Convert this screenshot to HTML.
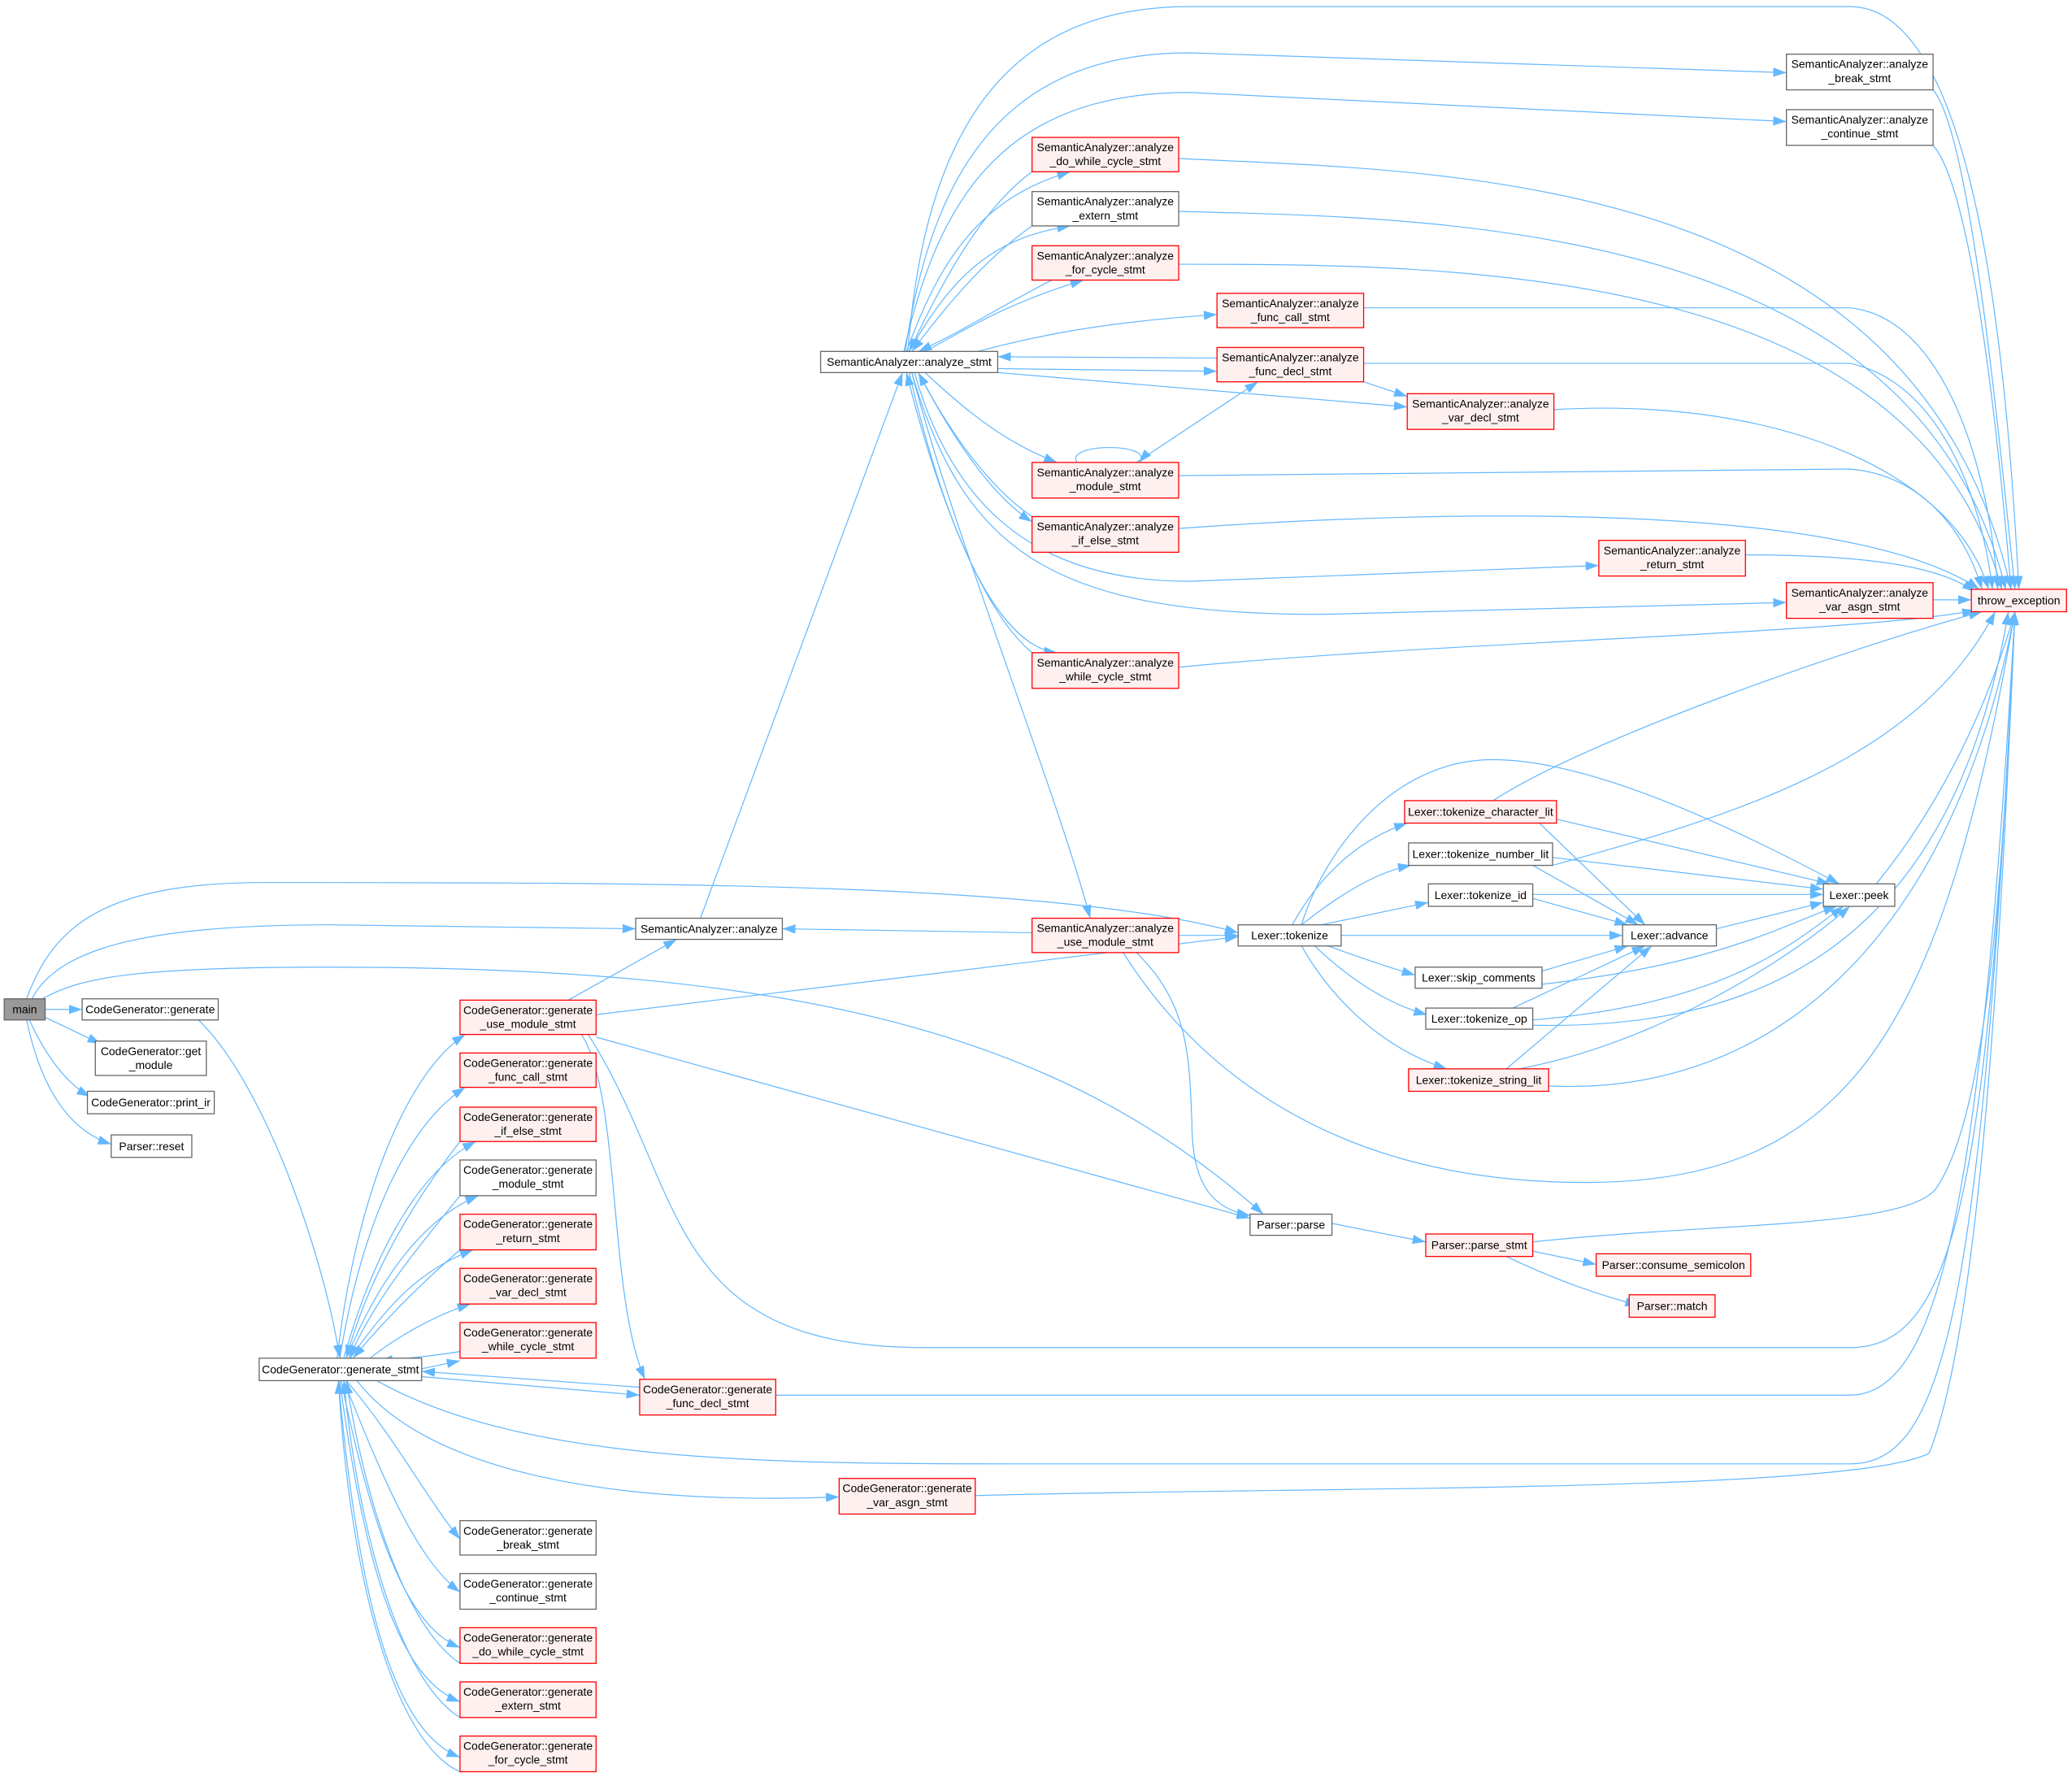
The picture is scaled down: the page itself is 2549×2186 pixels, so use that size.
<!DOCTYPE html>
<html><head><meta charset="utf-8"><style>
html,body{margin:0;padding:0;background:#fff}
svg{display:block}
text{font-family:"Liberation Sans",sans-serif;font-size:8.6px;fill:#000;text-anchor:middle}
.e{fill:none;stroke:#63b8ff;stroke-width:0.75;marker-end:url(#a)}
.n rect{fill:#fff;stroke:#666;stroke-width:0.8}
.r rect{fill:#fff0f0;stroke:#ff0000;stroke-width:0.8}
</style></head><body>
<svg width="2549" height="2186" viewBox="0 0 1568 1345" xmlns="http://www.w3.org/2000/svg">
<defs><marker id="a" markerWidth="10" markerHeight="7" refX="10" refY="3.5" orient="auto" markerUnits="userSpaceOnUse"><path d="M0,0 L10,3.5 L0,7 z" fill="#63b8ff"/></marker></defs>
<g id="edges">
<!-- main -->
<path class="e" d="M34 764 L62 764"/>
<path class="e" d="M34 770 L76 790"/>
<path class="e" d="M22 772 C35 800 50 820 68 830"/>
<path class="e" d="M20 772 C30 820 50 855 84 866"/>
<path class="e" d="M24 756 C45 715 120 700 250 700 L481 703"/>
<path class="e" d="M20 756 C40 700 80 668 200 668 C500 668 800 668 937 706"/>
<path class="e" d="M32 756 C60 740 100 732 250 732 C600 732 800 780 956 919"/>
<path class="e" d="M150 772 C200 820 245 950 257 1028"/>
<!-- generate_stmt to CG nodes -->
<path class="e" d="M255 1028 C270 900 310 810 352 783"/>
<path class="e" d="M257 1028 C275 920 310 850 352 823"/>
<path class="e" d="M260 1028 C285 940 320 885 360 864"/>
<path class="e" d="M262 1028 C290 960 325 920 362 905"/>
<path class="e" d="M265 1028 C295 985 320 960 358 946"/>
<path class="e" d="M280 1028 C300 1012 330 995 356 987"/>
<path class="e" d="M319 1036 L348 1030"/>
<path class="e" d="M348 1023 C330 1026 310 1028 287 1030"/>
<path class="e" d="M348 864 C320 900 280 960 262 1028"/>
<path class="e" d="M348 905 C320 940 285 980 264 1028"/>
<path class="e" d="M348 946 C320 970 290 1000 267 1028"/>
<path class="e" d="M319 1042 L484 1056"/>
<path class="e" d="M484 1050 L319 1038"/>
<path class="e" d="M262 1045 C300 1090 320 1130 348 1165"/>
<path class="e" d="M260 1045 C290 1120 315 1180 348 1205"/>
<path class="e" d="M258 1045 C280 1150 305 1230 348 1247"/>
<path class="e" d="M257 1045 C275 1180 300 1270 348 1288"/>
<path class="e" d="M256 1045 C270 1200 295 1310 348 1330"/>
<path class="e" d="M348 1300 C300 1270 270 1150 260 1045"/>
<path class="e" d="M348 1259 C305 1230 275 1130 262 1045"/>
<path class="e" d="M348 1341 C300 1320 265 1200 256 1045"/>
<path class="e" d="M270 1045 C320 1110 450 1140 635 1133"/>
<path class="e" d="M285 1045 C400 1110 600 1108 800 1108 L1400 1108 C1470 1108 1500 1000 1525 463"/>
<!-- CG use_module -->
<path class="e" d="M430 757 L512 711"/>
<path class="e" d="M451 768 L937 709"/>
<path class="e" d="M451 785 L946 922"/>
<path class="e" d="M440 783 C470 830 460 980 488 1044"/>
<path class="e" d="M445 783 C520 900 500 1020 700 1020 L1400 1020 C1480 1020 1505 900 1525 463"/>
<path class="e" d="M587 1056 L1400 1056 C1470 1056 1500 900 1525 463"/>
<path class="e" d="M738 1132 C1000 1125 1400 1130 1460 1100 C1500 1000 1515 700 1525 463"/>
<!-- SA -->
<path class="e" d="M530 695 L683 282"/>
<path class="e" d="M781 706 L592 703"/>
<path class="e" d="M690 282 C720 400 800 600 825 695"/>
<path class="e" d="M892 708 L937 708"/>
<path class="e" d="M860 721 C900 760 900 800 902 850 C902 900 920 915 946 920"/>
<path class="e" d="M850 721 C900 800 1000 895 1200 895 C1400 895 1470 780 1525 463"/>
<path class="e" d="M687 266 C700 100 760 5 900 5 L1400 5 C1500 5 1520 300 1528 446"/>
<path class="e" d="M685 266 C705 130 760 40 900 40 L1352 55"/>
<path class="e" d="M684 266 C710 150 760 70 900 70 L1352 92"/>
<path class="e" d="M1463 68 C1490 100 1510 300 1525 446"/>
<path class="e" d="M1463 110 C1490 140 1510 300 1522 446"/>
<path class="e" d="M686 266 C710 200 740 150 810 130"/>
<path class="e" d="M781 130 C740 160 710 220 688 266"/>
<path class="e" d="M688 266 C720 210 750 180 810 171"/>
<path class="e" d="M781 171 C740 200 710 240 690 266"/>
<path class="e" d="M700 266 C730 250 760 230 820 212"/>
<path class="e" d="M796 212 C760 230 730 250 695 266"/>
<path class="e" d="M740 266 C800 250 850 243 921 238"/>
<path class="e" d="M755 279 L921 281"/>
<path class="e" d="M921 271 L755 270"/>
<path class="e" d="M755 282 L1065 308"/>
<path class="e" d="M700 282 C730 310 760 335 800 350"/>
<path class="e" d="M695 282 C720 330 750 375 781 395"/>
<path class="e" d="M781 391 C750 370 720 330 695 282"/>
<path class="e" d="M692 282 C720 380 780 440 900 440 L1210 428"/>
<path class="e" d="M690 282 C730 420 800 465 1000 465 L1352 456"/>
<path class="e" d="M688 282 C720 420 760 490 800 494"/>
<path class="e" d="M781 494 C740 460 705 360 686 282"/>
<path class="e" d="M815 350 C805 335 875 335 862 350"/>
<path class="e" d="M860 350 L952 289"/>
<path class="e" d="M1032 289 L1065 300"/>
<path class="e" d="M892 120 C1100 130 1450 130 1522 446"/>
<path class="e" d="M892 160 C1100 165 1450 170 1518 446"/>
<path class="e" d="M892 200 C1100 200 1450 200 1515 446"/>
<path class="e" d="M1032 233 L1400 233 C1470 240 1505 350 1512 446"/>
<path class="e" d="M1032 275 L1400 275 C1470 290 1500 380 1508 446"/>
<path class="e" d="M1176 310 C1350 300 1480 360 1505 446"/>
<path class="e" d="M892 360 L1400 355 C1460 360 1490 410 1500 446"/>
<path class="e" d="M892 400 C1100 385 1400 380 1498 446"/>
<path class="e" d="M1321 420 C1420 420 1470 430 1495 448"/>
<path class="e" d="M1463 454 L1492 454"/>
<path class="e" d="M892 505 C1100 485 1400 480 1495 462"/>
<!-- Lexer -->
<path class="e" d="M985 700 C1000 650 1050 575 1130 575 C1200 575 1300 620 1392 669"/>
<path class="e" d="M978 700 C1000 660 1030 635 1065 623"/>
<path class="e" d="M985 700 C1010 680 1040 660 1068 655"/>
<path class="e" d="M1000 700 L1081 683"/>
<path class="e" d="M1015 708 L1228 708"/>
<path class="e" d="M1005 716 C1030 725 1050 732 1071 738"/>
<path class="e" d="M995 716 C1020 740 1050 760 1080 768"/>
<path class="e" d="M985 716 C1010 760 1050 795 1095 809"/>
<path class="e" d="M1130 606 C1200 560 1400 490 1500 463"/>
<path class="e" d="M1178 620 L1385 669"/>
<path class="e" d="M1165 623 L1245 700"/>
<path class="e" d="M1175 655 C1300 620 1450 580 1510 463"/>
<path class="e" d="M1175 649 L1380 673"/>
<path class="e" d="M1160 655 L1240 700"/>
<path class="e" d="M1160 677 L1380 677"/>
<path class="e" d="M1160 680 L1232 700"/>
<path class="e" d="M1167 735 L1232 716"/>
<path class="e" d="M1167 745 C1300 730 1350 700 1390 686"/>
<path class="e" d="M1145 763 L1245 716"/>
<path class="e" d="M1160 772 C1300 760 1350 720 1395 686"/>
<path class="e" d="M1160 776 C1350 780 1480 700 1520 463"/>
<path class="e" d="M1140 809 L1250 716"/>
<path class="e" d="M1150 809 C1250 790 1350 730 1400 686"/>
<path class="e" d="M1172 822 C1350 830 1480 700 1525 463"/>
<path class="e" d="M1299 703 L1380 683"/>
<path class="e" d="M1420 669 C1460 620 1500 550 1525 463"/>
<!-- Parser -->
<path class="e" d="M1008 926 L1079 940"/>
<path class="e" d="M1160 940 C1300 925 1440 930 1465 900 C1500 850 1515 700 1525 463"/>
<path class="e" d="M1160 947 L1208 957"/>
<path class="e" d="M1140 951 C1180 970 1210 980 1240 988"/>
</g>
<g id="nodes">
<g class="n" transform="translate(3,756)"><rect width="31" height="16" style="fill:#999;stroke:#666"/><text x="15.5" y="11">main</text></g>
<g class="n" transform="translate(62,756)"><rect width="103" height="16"/><text x="51.5" y="11">CodeGenerator::generate</text></g>
<g class="n" transform="translate(72,788)"><rect width="84" height="26"/><text x="42" y="10.5">CodeGenerator::get</text><text x="42" y="21">_module</text></g>
<g class="n" transform="translate(66,826)"><rect width="96" height="17"/><text x="48" y="11.5">CodeGenerator::print_ir</text></g>
<g class="n" transform="translate(84,859)"><rect width="61" height="17"/><text x="30.5" y="11.5">Parser::reset</text></g>
<g class="n" transform="translate(481,695)"><rect width="111" height="16"/><text x="55.5" y="11">SemanticAnalyzer::analyze</text></g>
<g class="n" transform="translate(621,266)"><rect width="134" height="16"/><text x="67" y="11">SemanticAnalyzer::analyze_stmt</text></g>
<g class="n" transform="translate(196,1028)"><rect width="123" height="17"/><text x="61.5" y="11.5">CodeGenerator::generate_stmt</text></g>

<g class="r" transform="translate(348,757)"><rect width="103" height="26"/><text x="51.5" y="10.5">CodeGenerator::generate</text><text x="51.5" y="21">_use_module_stmt</text></g>
<g class="r" transform="translate(348,797)"><rect width="103" height="26"/><text x="51.5" y="10.5">CodeGenerator::generate</text><text x="51.5" y="21">_func_call_stmt</text></g>
<g class="r" transform="translate(348,838)"><rect width="103" height="26"/><text x="51.5" y="10.5">CodeGenerator::generate</text><text x="51.5" y="21">_if_else_stmt</text></g>
<g class="n" transform="translate(348,878)"><rect width="103" height="27"/><text x="51.5" y="10.5">CodeGenerator::generate</text><text x="51.5" y="21">_module_stmt</text></g>
<g class="r" transform="translate(348,919)"><rect width="103" height="27"/><text x="51.5" y="10.5">CodeGenerator::generate</text><text x="51.5" y="21">_return_stmt</text></g>
<g class="r" transform="translate(348,960)"><rect width="103" height="27"/><text x="51.5" y="10.5">CodeGenerator::generate</text><text x="51.5" y="21">_var_decl_stmt</text></g>
<g class="r" transform="translate(348,1001)"><rect width="103" height="27"/><text x="51.5" y="10.5">CodeGenerator::generate</text><text x="51.5" y="21">_while_cycle_stmt</text></g>
<g class="r" transform="translate(484,1044)"><rect width="103" height="27"/><text x="51.5" y="10.5">CodeGenerator::generate</text><text x="51.5" y="21">_func_decl_stmt</text></g>
<g class="r" transform="translate(635,1119)"><rect width="103" height="27"/><text x="51.5" y="10.5">CodeGenerator::generate</text><text x="51.5" y="21">_var_asgn_stmt</text></g>
<g class="n" transform="translate(348,1151)"><rect width="103" height="26"/><text x="51.5" y="10.5">CodeGenerator::generate</text><text x="51.5" y="21">_break_stmt</text></g>
<g class="n" transform="translate(348,1191)"><rect width="103" height="27"/><text x="51.5" y="10.5">CodeGenerator::generate</text><text x="51.5" y="21">_continue_stmt</text></g>
<g class="r" transform="translate(348,1232)"><rect width="103" height="27"/><text x="51.5" y="10.5">CodeGenerator::generate</text><text x="51.5" y="21">_do_while_cycle_stmt</text></g>
<g class="r" transform="translate(348,1273)"><rect width="103" height="27"/><text x="51.5" y="10.5">CodeGenerator::generate</text><text x="51.5" y="21">_extern_stmt</text></g>
<g class="r" transform="translate(348,1314)"><rect width="103" height="27"/><text x="51.5" y="10.5">CodeGenerator::generate</text><text x="51.5" y="21">_for_cycle_stmt</text></g>

<g class="r" transform="translate(781,104)"><rect width="111" height="26"/><text x="55.5" y="10.5">SemanticAnalyzer::analyze</text><text x="55.5" y="21">_do_while_cycle_stmt</text></g>
<g class="n" transform="translate(781,145)"><rect width="111" height="26"/><text x="55.5" y="10.5">SemanticAnalyzer::analyze</text><text x="55.5" y="21">_extern_stmt</text></g>
<g class="r" transform="translate(781,186)"><rect width="111" height="26"/><text x="55.5" y="10.5">SemanticAnalyzer::analyze</text><text x="55.5" y="21">_for_cycle_stmt</text></g>
<g class="r" transform="translate(921,222)"><rect width="111" height="26"/><text x="55.5" y="10.5">SemanticAnalyzer::analyze</text><text x="55.5" y="21">_func_call_stmt</text></g>
<g class="r" transform="translate(921,263)"><rect width="111" height="26"/><text x="55.5" y="10.5">SemanticAnalyzer::analyze</text><text x="55.5" y="21">_func_decl_stmt</text></g>
<g class="r" transform="translate(1065,298)"><rect width="111" height="27"/><text x="55.5" y="10.5">SemanticAnalyzer::analyze</text><text x="55.5" y="21">_var_decl_stmt</text></g>
<g class="r" transform="translate(781,350)"><rect width="111" height="27"/><text x="55.5" y="10.5">SemanticAnalyzer::analyze</text><text x="55.5" y="21">_module_stmt</text></g>
<g class="r" transform="translate(781,391)"><rect width="111" height="27"/><text x="55.5" y="10.5">SemanticAnalyzer::analyze</text><text x="55.5" y="21">_if_else_stmt</text></g>
<g class="r" transform="translate(1210,409)"><rect width="111" height="27"/><text x="55.5" y="10.5">SemanticAnalyzer::analyze</text><text x="55.5" y="21">_return_stmt</text></g>
<g class="r" transform="translate(1352,441)"><rect width="111" height="27"/><text x="55.5" y="10.5">SemanticAnalyzer::analyze</text><text x="55.5" y="21">_var_asgn_stmt</text></g>
<g class="r" transform="translate(781,494)"><rect width="111" height="27"/><text x="55.5" y="10.5">SemanticAnalyzer::analyze</text><text x="55.5" y="21">_while_cycle_stmt</text></g>
<g class="r" transform="translate(781,695)"><rect width="111" height="26"/><text x="55.5" y="10.5">SemanticAnalyzer::analyze</text><text x="55.5" y="21">_use_module_stmt</text></g>
<g class="n" transform="translate(1352,41)"><rect width="111" height="27"/><text x="55.5" y="10.5">SemanticAnalyzer::analyze</text><text x="55.5" y="21">_break_stmt</text></g>
<g class="n" transform="translate(1352,83)"><rect width="111" height="27"/><text x="55.5" y="10.5">SemanticAnalyzer::analyze</text><text x="55.5" y="21">_continue_stmt</text></g>
<g class="r" transform="translate(1492,446)"><rect width="72" height="17"/><text x="36" y="11.5">throw_exception</text></g>

<g class="n" transform="translate(937,700)"><rect width="78" height="16"/><text x="39" y="11">Lexer::tokenize</text></g>
<g class="r" transform="translate(1063,606)"><rect width="115" height="17"/><text x="57.5" y="11.5">Lexer::tokenize_character_lit</text></g>
<g class="n" transform="translate(1066,638)"><rect width="109" height="17"/><text x="54.5" y="11.5">Lexer::tokenize_number_lit</text></g>
<g class="n" transform="translate(1081,669)"><rect width="79" height="17"/><text x="39.5" y="11.5">Lexer::tokenize_id</text></g>
<g class="n" transform="translate(1228,700)"><rect width="71" height="16"/><text x="35.5" y="11">Lexer::advance</text></g>
<g class="n" transform="translate(1071,732)"><rect width="96" height="16"/><text x="48" y="11">Lexer::skip_comments</text></g>
<g class="n" transform="translate(1079,763)"><rect width="81" height="16"/><text x="40.5" y="11">Lexer::tokenize_op</text></g>
<g class="r" transform="translate(1066,809)"><rect width="106" height="17"/><text x="53" y="11.5">Lexer::tokenize_string_lit</text></g>
<g class="n" transform="translate(1380,669)"><rect width="54" height="17"/><text x="27" y="11.5">Lexer::peek</text></g>
<g class="n" transform="translate(946,919)"><rect width="62" height="16"/><text x="31" y="11">Parser::parse</text></g>
<g class="r" transform="translate(1079,934)"><rect width="81" height="17"/><text x="40.5" y="11.5">Parser::parse_stmt</text></g>
<g class="r" transform="translate(1208,949)"><rect width="117" height="17"/><text x="58.5" y="11.5">Parser::consume_semicolon</text></g>
<g class="r" transform="translate(1233,980)"><rect width="65" height="17"/><text x="32.5" y="11.5">Parser::match</text></g>
</g>
</svg>
</body></html>
